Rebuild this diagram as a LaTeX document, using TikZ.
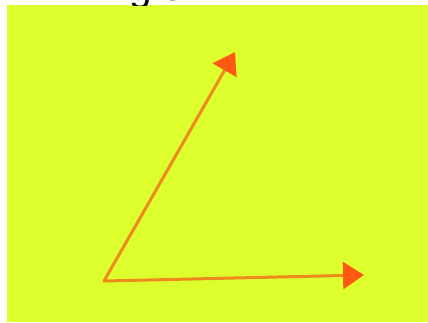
\documentclass[tikz,border=0pt]{standalone}
\usepackage{fontspec}
\setmainfont{Liberation Sans}
\usepackage{xcolor}
\usetikzlibrary{arrows.meta}
\definecolor{boardc}{HTML}{DEFF2E}
\definecolor{rayc}{HTML}{EE8A1C}
\definecolor{tipc}{HTML}{FF5A14}
\tikzset{
  rayedge/.style={-{Triangle[length=0.42cm, width=0.54cm, color=tipc]},
    draw=rayc, line width=0.06cm, line cap=round},
  titlenode/.style={anchor=base west, inner sep=0pt, font=\fontsize{23}{23}\selectfont},
}

\begin{document}
\begin{tikzpicture}[x=0.02cm, y=-0.02cm]
  \useasboundingbox (0,0) rectangle (428,322);
  \fill[white] (0,0) rectangle (428,322);
  \fill[boardc] (7,5) rectangle (428,322);
  % title, cut off at the top edge
  \begin{scope}
    \clip (0,0) rectangle (428,5);
    \node[titlenode] (title) at (80,0) {Angle};
  \end{scope}
  \coordinate (vertex) at (104,281);
  \coordinate (armh) at (364,275);
  \coordinate (arms) at (235,52);
  \draw[rayedge] (vertex) -- (armh);
  \draw[rayedge] (vertex) -- (arms);
\end{tikzpicture}
\end{document}
